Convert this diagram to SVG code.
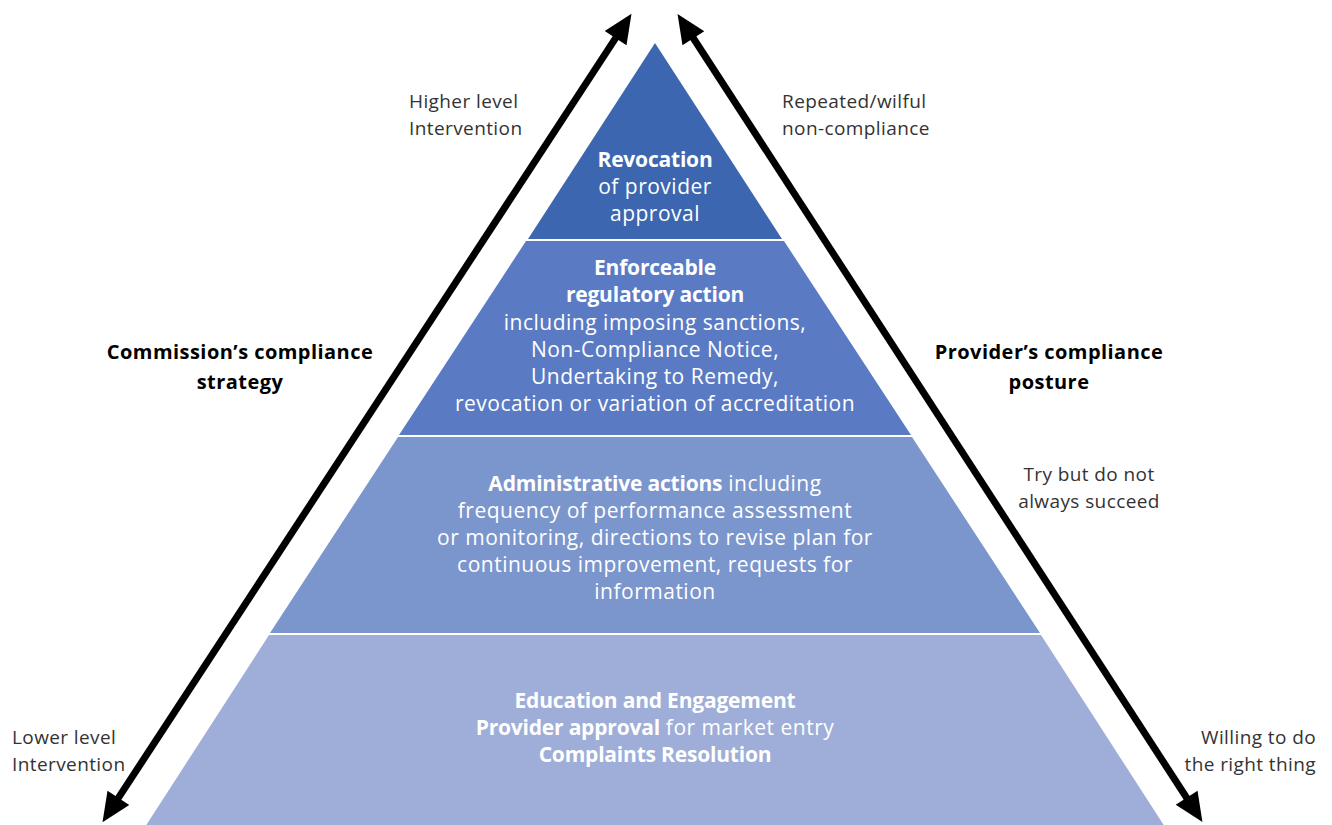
<svg xmlns="http://www.w3.org/2000/svg" width="1332" height="825" viewBox="0 0 1332 825">
  <style>
    text { font-family: "Open Sans", "Noto Sans", "Liberation Sans", sans-serif; }
    .in { fill: #ffffff; font-size: 21px; letter-spacing: 0.5px; text-anchor: middle; }
    .b { font-weight: bold; letter-spacing: -0.2px; }
    .lab { fill: #333333; font-size: 19px; letter-spacing: 0.4px; }
    .hd { fill: #000000; font-size: 20px; font-weight: bold; letter-spacing: 0.45px; text-anchor: middle; }
    .arr { stroke: #000000; stroke-width: 7; fill: none; marker-start: url(#ah); marker-end: url(#ah); }
  </style>
  <defs>
    <marker id="ah" markerUnits="userSpaceOnUse" markerWidth="40" markerHeight="40" viewBox="-10 -15 40 30" refX="8" refY="0" orient="auto-start-reverse">
      <path d="M0,-13 L29,0 L0,13 z" fill="#000000"/>
    </marker>
  </defs>
  <rect width="1332" height="825" fill="#ffffff"/>

  <g id="tier1">
    <polygon points="655,43 782,239 528,239" fill="#3D66B0"/>
    <text class="in" x="655" y="167"><tspan class="b">Revocation</tspan></text>
    <text class="in" x="655" y="194">of provider</text>
    <text class="in" x="655" y="221">approval</text>
  </g>
  <g id="tier2">
    <polygon points="526,241 784,241 911,435 399,435" fill="#5A7BC4"/>
    <text class="in b" x="655" y="275">Enforceable</text>
    <text class="in b" x="655" y="302">regulatory action</text>
    <text class="in" x="655" y="330">including imposing sanctions,</text>
    <text class="in" x="655" y="357">Non-Compliance Notice,</text>
    <text class="in" x="655" y="384">Undertaking to Remedy,</text>
    <text class="in" x="655" y="411">revocation or variation of accreditation</text>
  </g>
  <g id="tier3">
    <polygon points="398,437 912,437 1040,633 270,633" fill="#7B95CD"/>
    <text class="in" x="655" y="491"><tspan class="b">Administrative actions</tspan> including</text>
    <text class="in" x="655" y="518">frequency of performance assessment</text>
    <text class="in" x="655" y="545">or monitoring, directions to revise plan for</text>
    <text class="in" x="655" y="572">continuous improvement, requests for</text>
    <text class="in" x="655" y="599">information</text>
  </g>
  <g id="tier4">
    <polygon points="269,635 1041,635 1165,827 145,827" fill="#9EAED8"/>
    <text class="in b" x="655" y="708">Education and Engagement</text>
    <text class="in" x="655" y="735"><tspan class="b">Provider approval</tspan> for market entry</text>
    <text class="in b" x="655" y="762">Complaints Resolution</text>
  </g>

  <g id="connectors">
    <path class="arr" d="M114,804.6 L620,31.4"/>
    <path class="arr" d="M689,31.5 L1191,804.5"/>
  </g>

  <g id="labels-left">
    <text class="lab" x="409" y="108">Higher level</text>
    <text class="lab" x="409" y="135">Intervention</text>
    <text class="hd" x="240" y="359">Commission’s compliance</text>
    <text class="hd" x="240" y="389">strategy</text>
    <text class="lab" x="12" y="744">Lower level</text>
    <text class="lab" x="12" y="771">Intervention</text>
  </g>
  <g id="labels-right">
    <text class="lab" x="782" y="108">Repeated/wilful</text>
    <text class="lab" x="782" y="135">non-compliance</text>
    <text class="hd" x="1049" y="359">Provider’s compliance</text>
    <text class="hd" x="1049" y="389">posture</text>
    <text class="lab" x="1089" y="481" text-anchor="middle">Try but do not</text>
    <text class="lab" x="1089" y="508" text-anchor="middle">always succeed</text>
    <text class="lab" x="1316" y="744" text-anchor="end">Willing to do</text>
    <text class="lab" x="1316" y="771" text-anchor="end">the right thing</text>
  </g>
</svg>
